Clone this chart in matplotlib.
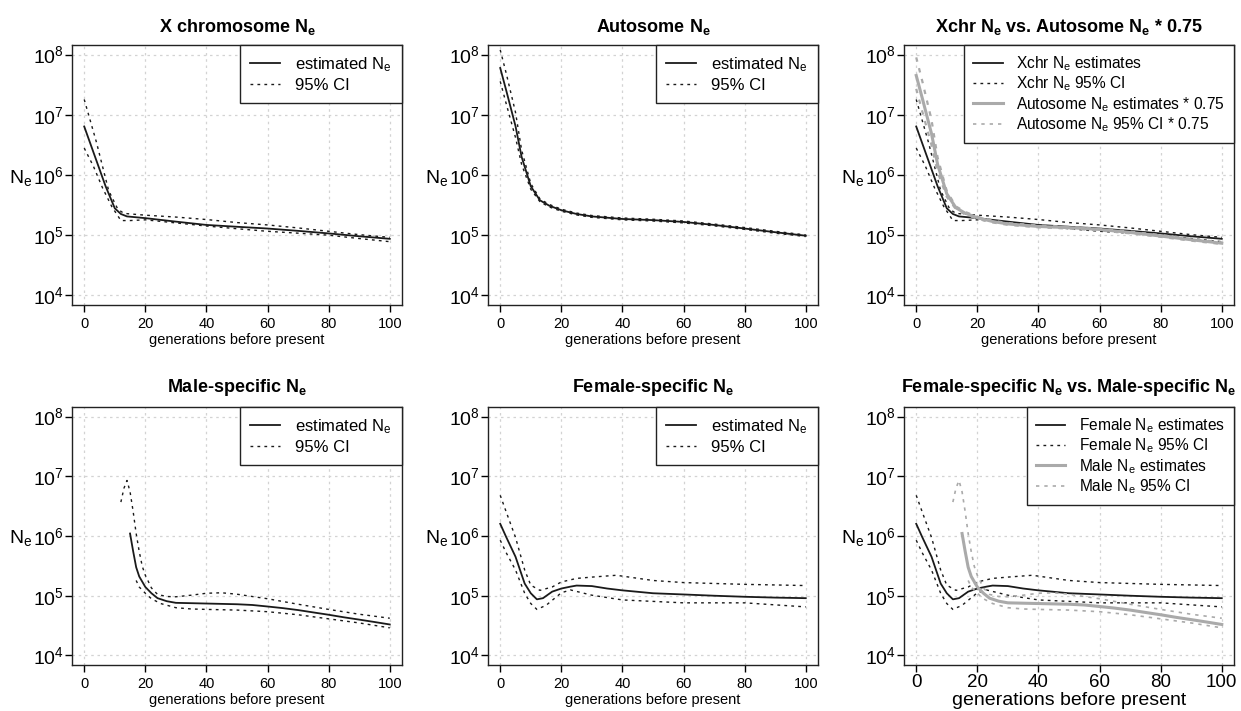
import numpy as np
import matplotlib.pyplot as plt
from matplotlib.lines import Line2D
import matplotlib.transforms as mtransforms

plt.rcParams['font.family'] = ['Liberation Sans', 'DejaVu Sans']
plt.rcParams['mathtext.fontset'] = 'custom'
plt.rcParams['mathtext.rm'] = 'Liberation Sans'
plt.rcParams['mathtext.bf'] = 'Liberation Sans:bold'
plt.rcParams['mathtext.it'] = 'Liberation Sans:italic'

# ---- data (Ne values, generations before present) ----
xchr_gen = [0, 3, 7, 10, 12, 14, 20, 30, 40, 50, 60, 70, 80, 90, 100]
xchr_est = [6.4e6, 2.4e6, 6.5e5, 2.8e5, 2.25e5, 2.05e5, 1.92e5, 1.68e5, 1.48e5,
            1.38e5, 1.29e5, 1.18e5, 1.07e5, 9.6e4, 8.7e4]
xchr_up_gen = [0, 4, 8, 11, 13, 20, 30, 40, 50, 60, 70, 80, 90, 100]
xchr_up = [1.8e7, 3.5e6, 5.5e5, 2.7e5, 2.3e5, 2.15e5, 2.0e5, 1.82e5, 1.62e5,
           1.48e5, 1.32e5, 1.16e5, 1.02e5, 9.2e4]
xchr_lo_gen = [0, 3, 6, 9, 12, 15, 20, 30, 40, 50, 60, 70, 80, 90, 100]
xchr_lo = [2.8e6, 1.4e6, 6.1e5, 3.0e5, 1.75e5, 1.75e5, 1.8e5, 1.6e5, 1.42e5,
           1.28e5, 1.16e5, 1.08e5, 1.0e5, 8.8e4, 7.8e4]

auto_gen = [0, 2, 5, 7, 10, 13, 16, 20, 25, 30, 40, 50, 60, 70, 80, 90, 100]
auto_est = [6e7, 2.5e7, 6.5e6, 2e6, 6.5e5, 3.8e5, 3.1e5, 2.6e5, 2.25e5, 2.05e5,
            1.86e5, 1.78e5, 1.66e5, 1.48e5, 1.29e5, 1.12e5, 9.8e4]
auto_up = [1.2e8, 4.8e7, 1.1e7, 2.6e6, 7.2e5, 4.0e5, 3.25e5, 2.7e5, 2.33e5, 2.12e5,
           1.93e5, 1.84e5, 1.72e5, 1.53e5, 1.34e5, 1.16e5, 1.01e5]
auto_lo = [3.6e7, 1.5e7, 4.2e6, 1.5e6, 5.8e5, 3.6e5, 2.95e5, 2.5e5, 2.17e5, 1.98e5,
           1.8e5, 1.72e5, 1.6e5, 1.43e5, 1.25e5, 1.08e5, 9.5e4]
auto_scale = 0.75

male_gen = [15, 16, 17, 18, 20, 22, 24, 27, 30, 40, 50, 55, 60, 65, 70, 75, 80, 85, 90, 95, 100]
male_est = [1.1e6, 5.6e5, 3.0e5, 2.1e5, 1.4e5, 1.1e5, 9.1e4, 8.1e4, 7.6e4, 7.4e4,
            7.2e4, 7.0e4, 6.6e4, 6.2e4, 5.75e4, 5.25e4, 4.8e4, 4.35e4, 3.98e4, 3.63e4, 3.3e4]
male_up_gen = [12, 13, 14, 15, 16, 17, 18, 19, 20, 22, 24, 27, 30, 35, 40, 45, 50, 55,
               60, 70, 80, 90, 100]
male_up = [3.7e6, 6.3e6, 8.5e6, 5.5e6, 2.6e6, 1.1e6, 5.5e5, 3.1e5, 2.2e5, 1.35e5,
           1.05e5, 9.7e4, 9.6e4, 1.02e5, 1.1e5, 1.12e5, 1.06e5, 9.7e4, 8.9e4, 7.2e4,
           5.9e4, 4.9e4, 4.2e4]
male_lo_gen = [17, 18, 20, 22, 25, 30, 35, 40, 50, 60, 70, 80, 90, 100]
male_lo = [1.8e5, 1.4e5, 1.1e5, 8.9e4, 7.4e4, 6.3e4, 6.0e4, 5.9e4, 5.75e4, 5.4e4,
           4.8e4, 4.1e4, 3.5e4, 2.9e4]

fem_gen = [0, 2, 5, 8, 10, 12, 14, 17, 20, 23, 25, 30, 35, 40, 50, 60, 70, 80, 90, 100]
fem_est = [1.6e6, 9.5e5, 4.5e5, 1.6e5, 1.1e5, 8.7e4, 9.1e4, 1.17e5, 1.32e5, 1.42e5,
           1.48e5, 1.45e5, 1.32e5, 1.23e5, 1.1e5, 1.05e5, 1.0e5, 9.6e4, 9.3e4, 9.1e4]
fem_up_gen = [0, 2, 5, 8, 10, 13, 17, 20, 25, 30, 38, 50, 60, 80, 100]
fem_up = [4.8e6, 2.5e6, 9.5e5, 2.7e5, 1.5e5, 1.23e5, 1.4e5, 1.7e5, 1.95e5, 2.05e5,
          2.2e5, 1.8e5, 1.66e5, 1.55e5, 1.48e5]
fem_lo_gen = [0, 2, 5, 8, 10, 12, 15, 20, 23, 30, 40, 60, 80, 100]
fem_lo = [8.5e5, 5.2e5, 2.7e5, 1.1e5, 7.4e4, 5.9e4, 6.9e4, 1.12e5, 1.25e5, 1.02e5,
          8.5e4, 7.6e4, 7.6e4, 6.5e4]

xticks = [0, 20, 40, 60, 80, 100]
yticks = [1e4, 1e5, 1e6, 1e7, 1e8]
ytick_labels = [r'$\mathregular{10^{%d}}$' % k for k in range(4, 9)]

titles = [r'X chromosome N$_\mathregular{e}$',
          r'Autosome N$_\mathregular{e}$',
          r'Xchr N$_\mathregular{e}$ vs. Autosome N$_\mathregular{e}$ * 0.75',
          r'Male-specific N$_\mathregular{e}$',
          r'Female-specific N$_\mathregular{e}$',
          r'Female-specific N$_\mathregular{e}$ vs. Male-specific N$_\mathregular{e}$']

BLK = '#1a1a1a'
GRY = '#aaaaaa'
DOT = (0, (2, 3))

fig = plt.figure(figsize=(12.41, 7.11), dpi=100)
lefts = [72 / 1241, 488 / 1241, 904 / 1241]
w = 330 / 1241
axes = []
for r, (b, h) in enumerate([((711 - 305) / 711, 260 / 711), ((711 - 665) / 711, 258 / 711)]):
    for c in range(3):
        axes.append(fig.add_axes([lefts[c], b, w, h]))


def style(ax, title, big=False, toprow=True):
    ax.set_yscale('log')
    ax.set_xlim(-4, 104)
    ax.set_ylim(10 ** 3.84, 10 ** 8.16)
    ax.set_xticks(xticks)
    ax.set_yticks(yticks)
    ax.set_yticklabels(ytick_labels)
    ax.minorticks_off()
    ax.grid(True, color='#d3d3d3', linestyle=DOT, lw=0.9)
    ax.set_axisbelow(True)
    for s in ax.spines.values():
        s.set_linewidth(1.0)
        s.set_color('#222222')
    ax.tick_params(axis='y', direction='out', length=5, width=1, labelsize=14, pad=1)
    if big:
        ax.tick_params(axis='x', direction='out', length=5, width=1, labelsize=13.5, pad=1.5)
        ax.set_xlabel('generations before present', fontsize=14, labelpad=0.5)
    else:
        ax.tick_params(axis='x', direction='out', length=5, width=1, labelsize=10.5, pad=3.5)
        ax.set_xlabel('generations before present', fontsize=10.5, labelpad=1.5)
    ax.set_title(title, fontsize=13, fontweight='bold', pad=9.5 if toprow else 11)
    tr = mtransforms.blended_transform_factory(ax.transAxes, ax.transData)
    ax.text(-0.192, 1e6, r'N$_\mathregular{e}$', fontsize=14, transform=tr,
            ha='left', va='center_baseline')


def simple_legend(ax):
    h = [Line2D([], [], color=BLK, lw=1.3), Line2D([], [], color=BLK, lw=1.0, ls=DOT)]
    leg = ax.legend(h, [r'estimated N$_\mathregular{e}$', '95% CI'], loc='upper right',
                    borderaxespad=0, fancybox=False, edgecolor='#222222', framealpha=1,
                    fontsize=12, handlelength=1.8, handletextpad=0.9, labelspacing=0.25,
                    borderpad=0.6)
    leg.get_frame().set_linewidth(1.0)


def four_legend(ax, labels):
    h = [Line2D([], [], color=BLK, lw=1.3), Line2D([], [], color=BLK, lw=1.0, ls=DOT),
         Line2D([], [], color=GRY, lw=2.2), Line2D([], [], color=GRY, lw=1.2, ls=DOT)]
    leg = ax.legend(h, labels, loc='upper right', borderaxespad=0, fancybox=False,
                    edgecolor='#222222', framealpha=1, fontsize=11.2, handlelength=1.9,
                    handletextpad=0.85, labelspacing=0.1, borderpad=0.6)
    leg.get_frame().set_linewidth(1.0)


# X chromosome
ax = axes[0]
ax.plot(xchr_gen, xchr_est, color=BLK, lw=1.3)
ax.plot(xchr_up_gen, xchr_up, color=BLK, lw=1.0, ls=DOT)
ax.plot(xchr_lo_gen, xchr_lo, color=BLK, lw=1.0, ls=DOT)
style(ax, titles[0])
simple_legend(ax)

# Autosome
ax = axes[1]
ax.plot(auto_gen, auto_est, color=BLK, lw=1.3)
ax.plot(auto_gen, auto_up, color=BLK, lw=1.0, ls=DOT)
ax.plot(auto_gen, auto_lo, color=BLK, lw=1.0, ls=DOT)
style(ax, titles[1])
simple_legend(ax)

# Xchr vs autosome * 0.75
ax = axes[2]
ax.plot(xchr_gen, xchr_est, color=BLK, lw=1.3)
ax.plot(xchr_up_gen, xchr_up, color=BLK, lw=1.0, ls=DOT)
ax.plot(xchr_lo_gen, xchr_lo, color=BLK, lw=1.0, ls=DOT)
ax.plot(auto_gen, np.array(auto_est) * auto_scale, color=GRY, lw=2.2)
ax.plot(auto_gen, np.array(auto_up) * auto_scale, color=GRY, lw=1.6, ls=DOT)
ax.plot(auto_gen, np.array(auto_lo) * auto_scale, color=GRY, lw=1.6, ls=DOT)
style(ax, titles[2])
four_legend(ax, [r'Xchr N$_\mathregular{e}$ estimates', r'Xchr N$_\mathregular{e}$ 95% CI',
                 r'Autosome N$_\mathregular{e}$ estimates * 0.75',
                 r'Autosome N$_\mathregular{e}$ 95% CI * 0.75'])

# Male
ax = axes[3]
ax.plot(male_gen, male_est, color=BLK, lw=1.3)
ax.plot(male_up_gen, male_up, color=BLK, lw=1.0, ls=DOT)
ax.plot(male_lo_gen, male_lo, color=BLK, lw=1.0, ls=DOT)
style(ax, titles[3], toprow=False)
simple_legend(ax)

# Female
ax = axes[4]
ax.plot(fem_gen, fem_est, color=BLK, lw=1.3)
ax.plot(fem_up_gen, fem_up, color=BLK, lw=1.0, ls=DOT)
ax.plot(fem_lo_gen, fem_lo, color=BLK, lw=1.0, ls=DOT)
style(ax, titles[4], toprow=False)
simple_legend(ax)

# Female vs male
ax = axes[5]
ax.plot(fem_gen, fem_est, color=BLK, lw=1.3)
ax.plot(fem_up_gen, fem_up, color=BLK, lw=1.0, ls=DOT)
ax.plot(fem_lo_gen, fem_lo, color=BLK, lw=1.0, ls=DOT)
ax.plot(male_gen, male_est, color=GRY, lw=2.2)
ax.plot(male_up_gen, male_up, color=GRY, lw=1.2, ls=DOT)
ax.plot(male_lo_gen, male_lo, color=GRY, lw=1.2, ls=DOT)
style(ax, titles[5], big=True, toprow=False)
four_legend(ax, [r'Female N$_\mathregular{e}$ estimates', r'Female N$_\mathregular{e}$ 95% CI',
                 r'Male N$_\mathregular{e}$ estimates', r'Male N$_\mathregular{e}$ 95% CI'])

fig.savefig('out.png', dpi=100)
